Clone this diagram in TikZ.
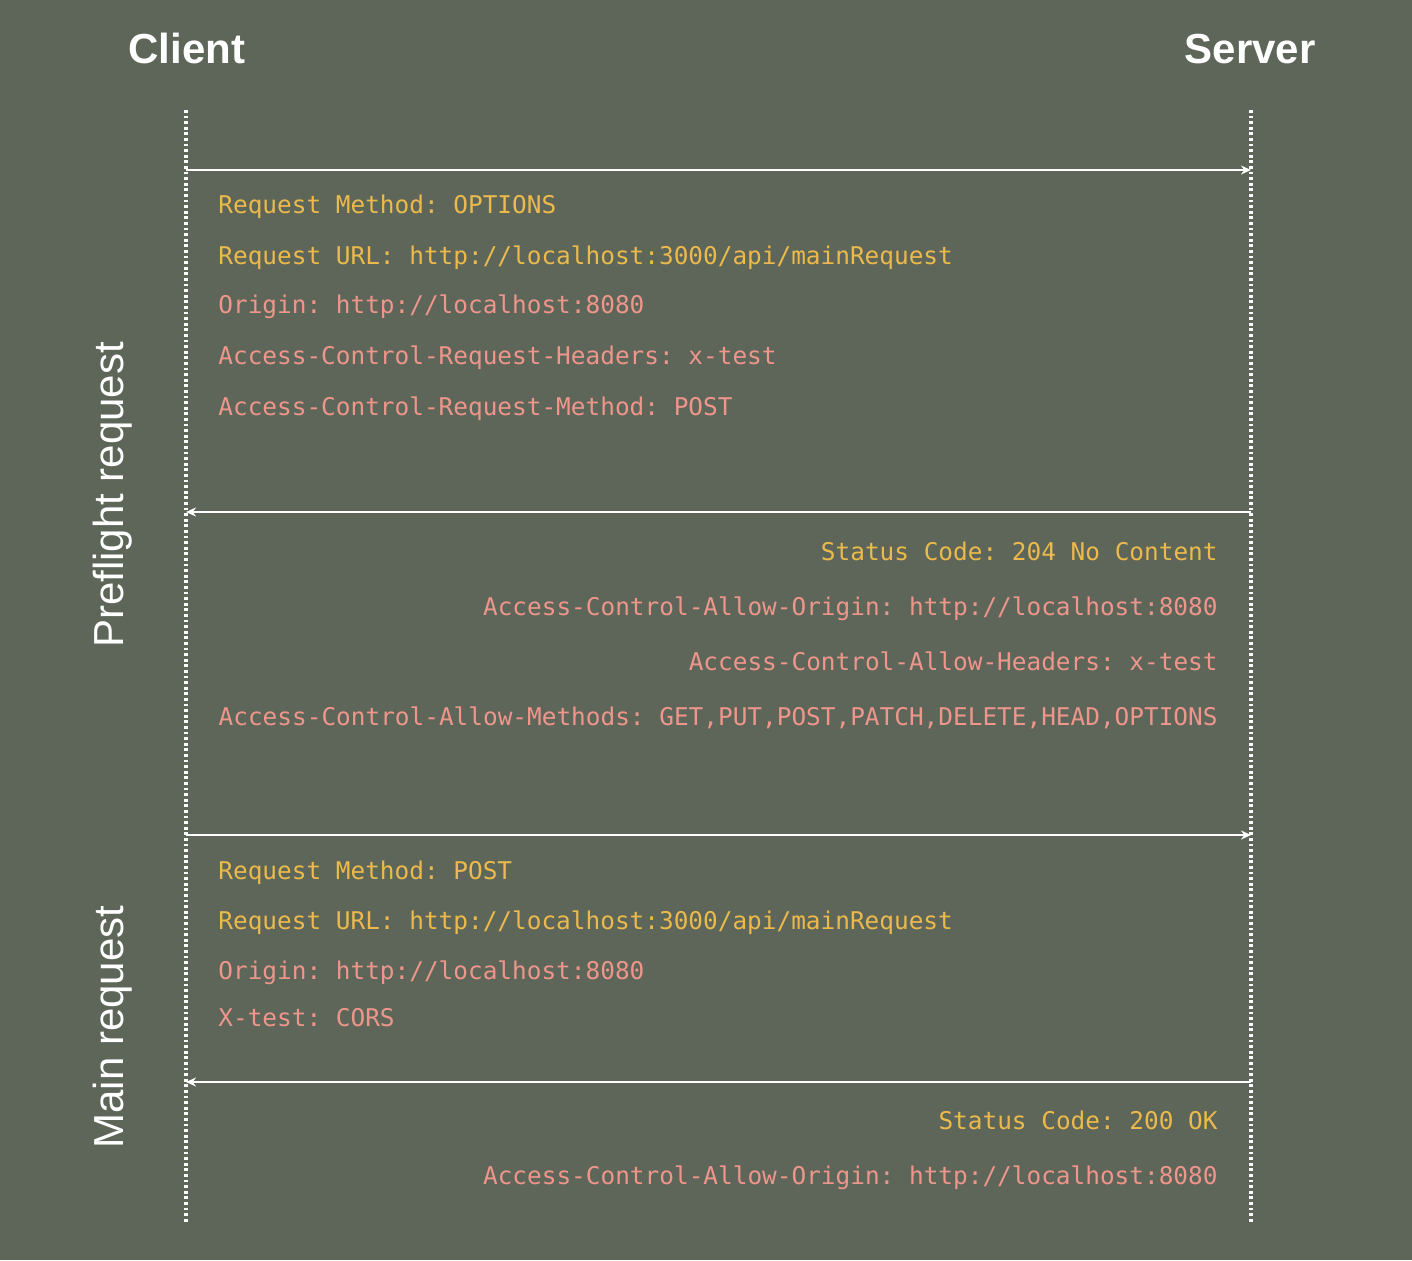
\documentclass[tikz,border=0pt]{standalone}
\usepackage{fontspec}
\setmainfont{Liberation Sans}
\newfontfamily\monofont{DejaVu Sans Mono}
\usetikzlibrary{arrows.meta}
\definecolor{bg}{RGB}{93,102,88}
\definecolor{ylw}{RGB}{236,186,76}
\definecolor{pnk}{RGB}{238,150,140}
\frenchspacing
\tikzset{
  title/.style={text=white,font=\fontsize{21pt}{24pt}\selectfont\bfseries,inner sep=0pt},
  phase/.style={text=white,font=\fontsize{21pt}{24pt}\selectfont,inner sep=0pt,rotate=90},
  lifeline/.style={white,line width=1.6pt,dash pattern=on 1.4pt off 1.4pt},
  msg/.style={white,line width=1pt,-{Stealth[length=5pt,width=4.5pt]}},
  hdr/.style={font=\monofont\fontsize{12.2pt}{14pt}\selectfont,inner sep=0pt},
  lt/.style={hdr,anchor=base west},
  rt/.style={hdr,anchor=base east},
}
\begin{document}
\begin{tikzpicture}[x=0.5pt,y=-0.5pt]
\fill[bg] (0,0) rectangle (1412,1260);
\useasboundingbox (0,0) rectangle (1412,1260);
\node[title,anchor=base west] (client) at (128,63) {Client};
\node[title,anchor=base east] (server) at (1316,63) {Server};
\node[phase] (pre) at (113,495) {Preflight request};
\node[phase] (main) at (113,1027) {Main request};
\coordinate (ctop) at (186,110);
\coordinate (cbot) at (186,1222);
\coordinate (stop) at (1251,110);
\coordinate (sbot) at (1251,1222);
\draw[lifeline] (ctop) -- (cbot);
\draw[lifeline] (stop) -- (sbot);
\coordinate (c1) at (186,170); \coordinate (s1) at (1251,170);
\coordinate (c2) at (186,512); \coordinate (s2) at (1251,512);
\coordinate (c3) at (186,835); \coordinate (s3) at (1251,835);
\coordinate (c4) at (186,1082); \coordinate (s4) at (1251,1082);
\draw[msg] (c1) -- (s1);
\draw[msg] (s2) -- (c2);
\draw[msg] (c3) -- (s3);
\draw[msg] (s4) -- (c4);
% preflight request
\node[lt,text=ylw] (a1) at (218,213) {Request Method: OPTIONS};
\node[lt,text=ylw] (a2) at (218,264) {Request URL: http://localhost:3000/api/mainRequest};
\node[lt,text=pnk] (a3) at (218,313) {Origin: http://localhost:8080};
\node[lt,text=pnk] (a4) at (218,364) {Access-Control-Request-Headers: x-test};
\node[lt,text=pnk] (a5) at (218,415) {Access-Control-Request-Method: POST};
% preflight response
\node[rt,text=ylw] (b1) at (1218,560) {Status Code: 204 No Content};
\node[rt,text=pnk] (b2) at (1218,615) {Access-Control-Allow-Origin: http://localhost:8080};
\node[rt,text=pnk] (b3) at (1218,670) {Access-Control-Allow-Headers: x-test};
\node[rt,text=pnk] (b4) at (1218,725) {Access-Control-Allow-Methods: GET,PUT,POST,PATCH,DELETE,HEAD,OPTIONS};
% main request
\node[lt,text=ylw] (m1) at (218,879) {Request Method: POST};
\node[lt,text=ylw] (m2) at (218,929) {Request URL: http://localhost:3000/api/mainRequest};
\node[lt,text=pnk] (m3) at (218,979) {Origin: http://localhost:8080};
\node[lt,text=pnk] (m4) at (218,1026) {X-test: CORS};
% main response
\node[rt,text=ylw] (r1) at (1218,1129) {Status Code: 200 OK};
\node[rt,text=pnk] (r2) at (1218,1184) {Access-Control-Allow-Origin: http://localhost:8080};
\end{tikzpicture}
\end{document}
